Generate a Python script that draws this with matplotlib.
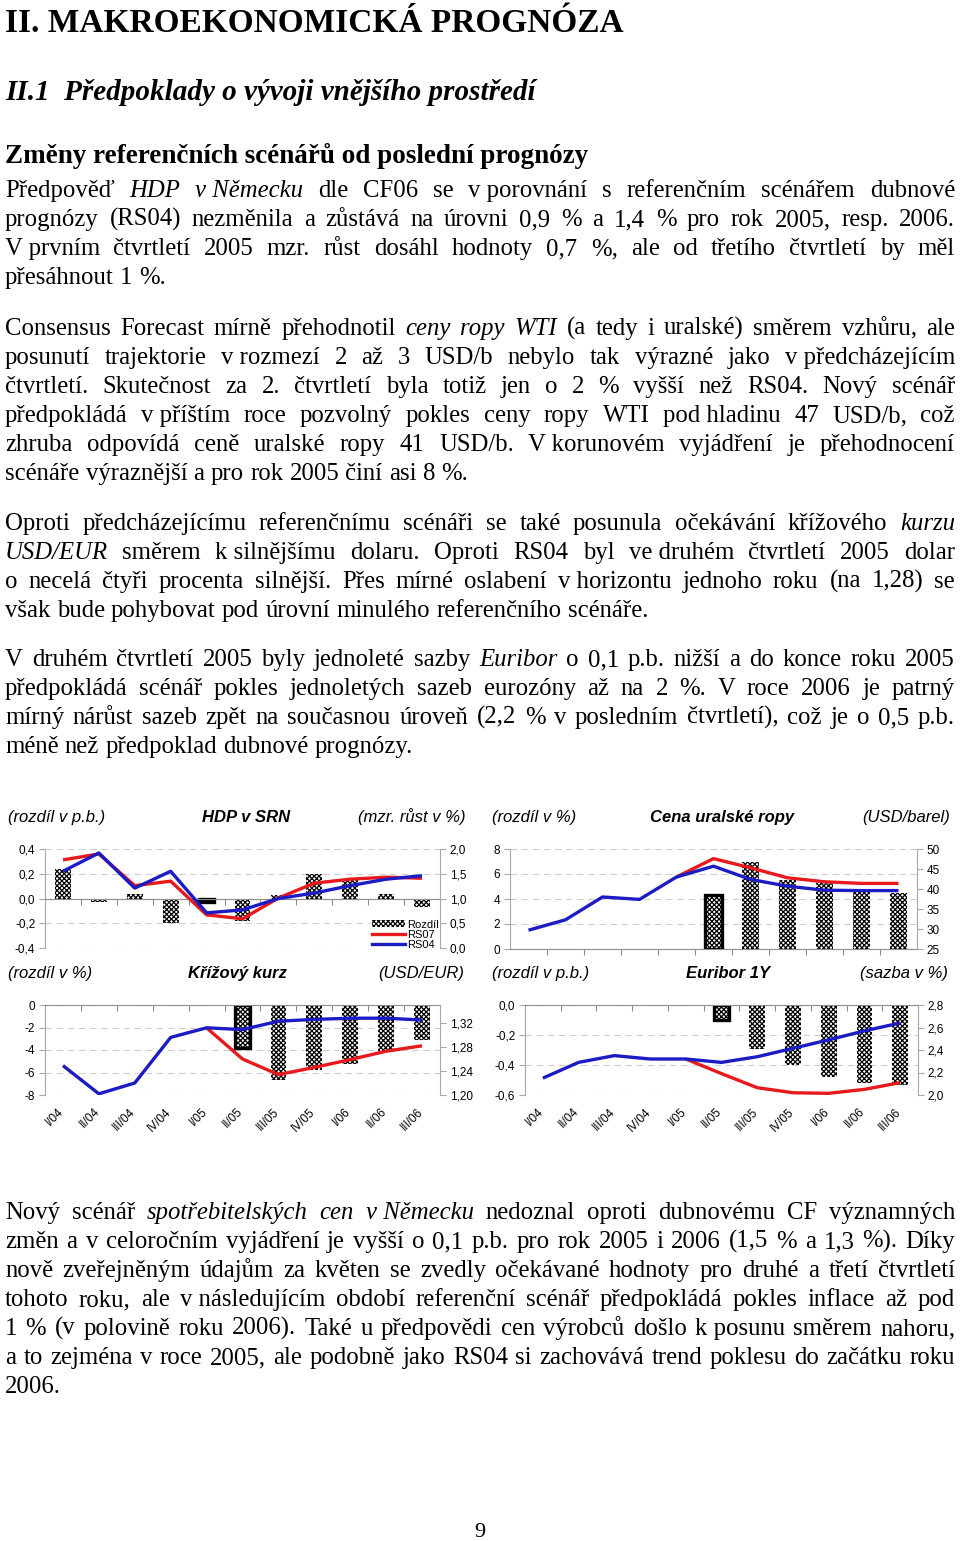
import matplotlib
matplotlib.use("Agg")
import matplotlib.pyplot as plt
from matplotlib.patches import Patch
from matplotlib.lines import Line2D
from matplotlib.ticker import FuncFormatter, MultipleLocator
import matplotlib.transforms as mtransforms
import numpy as np

SERIF = "Liberation Serif"
SANS = "Liberation Sans"
nan = np.nan

# =====
# Data
# =====
categories = ["I/04", "II/04", "III/04", "IV/04", "I/05", "II/05",
              "III/05", "IV/05", "I/06", "II/06", "III/06"]

# HDP v SRN
hdp_diff = [0.24, -0.025, 0.035, -0.20, -0.03, -0.18, 0.03, 0.20, 0.15, 0.035, -0.065]
hdp_rs07 = [1.78, 1.90, 1.26, 1.35, 0.67, 0.59, 1.01, 1.31, 1.39, 1.43, 1.41]
hdp_rs04 = [1.55, 1.92, 1.21, 1.55, 0.71, 0.77, 1.00, 1.11, 1.26, 1.39, 1.46]
hdp_box = 4

# Cena uralske ropy
oil_diff = [nan, nan, nan, nan, nan, 4.3, 7.0, 5.55, 5.3, 4.75, 4.45]
oil_rs07 = [nan, nan, nan, nan, 43.0, 47.6, 45.3, 42.8, 41.8, 41.4, 41.4]
oil_rs04 = [29.7, 32.3, 38.0, 37.4, 43.0, 45.7, 42.4, 40.7, 39.7, 39.6, 39.6]
oil_box = 5

# Krizovy kurz
fx_diff = [nan, nan, nan, nan, nan, -3.85, -6.65, -5.8, -5.25, -4.15, -3.1]
fx_rs07 = [nan, nan, nan, nan, 1.312, 1.260, 1.234, 1.246, 1.259, 1.273, 1.282]
fx_rs04 = [1.249, 1.202, 1.220, 1.296, 1.312, 1.309, 1.323, 1.326, 1.328, 1.328, 1.325]
fx_box = 5

# Euribor 1Y
eur_diff = [nan, nan, nan, nan, nan, -0.10, -0.29, -0.40, -0.48, -0.52, -0.53]
eur_rs07 = [nan, nan, nan, nan, 2.32, 2.19, 2.065, 2.02, 2.015, 2.05, 2.11]
eur_rs04 = [2.15, 2.29, 2.35, 2.32, 2.32, 2.29, 2.34, 2.415, 2.49, 2.57, 2.64]
eur_box = 5

# =====
# Text of the page
# =====
heading1 = "II. MAKROEKONOMICKÁ PROGNÓZA"
heading2 = "II.1  Předpoklady o vývoji vnějšího prostředí"
heading3 = "Změny referenčních scénářů od poslední prognózy"

para1 = ["Předpověď _HDP v~Německu_ dle CF06 se v~porovnání s referenčním scénářem dubnové",
         "prognózy (RS04) nezměnila a zůstává na úrovni 0,9 % a 1,4 % pro rok 2005, resp. 2006.",
         "V~prvním čtvrtletí 2005 mzr. růst dosáhl hodnoty 0,7 %, ale od třetího čtvrtletí by měl",
         "přesáhnout 1 %."]
para2 = ["Consensus Forecast mírně přehodnotil _ceny ropy WTI_ (a tedy i uralské) směrem vzhůru, ale",
         "posunutí trajektorie v~rozmezí 2 až 3 USD/b nebylo tak výrazné jako v~předcházejícím",
         "čtvrtletí. Skutečnost za 2. čtvrtletí byla totiž jen o 2 % vyšší než RS04. Nový scénář",
         "předpokládá v~příštím roce pozvolný pokles ceny ropy WTI pod~hladinu 47 USD/b, což",
         "zhruba odpovídá ceně uralské ropy 41 USD/b. V~korunovém vyjádření je přehodnocení",
         "scénáře výraznější a pro rok 2005 činí asi 8 %."]
para3 = ["Oproti předcházejícímu referenčnímu scénáři se také posunula očekávání křížového _kurzu_",
         "_USD/EUR_ směrem k~silnějšímu dolaru. Oproti RS04 byl ve~druhém čtvrtletí 2005 dolar",
         "o necelá čtyři procenta silnější. Přes mírné oslabení v~horizontu jednoho roku (na 1,28) se",
         "však bude pohybovat pod úrovní minulého referenčního scénáře."]
para4 = ["V druhém čtvrtletí 2005 byly jednoleté sazby _Euribor_ o 0,1 p.b. nižší a do konce roku 2005",
         "předpokládá scénář pokles jednoletých sazeb eurozóny až na 2 %. V roce 2006 je patrný",
         "mírný nárůst sazeb zpět na současnou úroveň (2,2 % v posledním čtvrtletí), což je o 0,5 p.b.",
         "méně než předpoklad dubnové prognózy."]
para5 = ["Nový scénář _spotřebitelských cen v~Německu_ nedoznal oproti dubnovému CF významných",
         "změn a v celoročním vyjádření je vyšší o 0,1 p.b. pro rok 2005 i 2006 (1,5 % a 1,3 %). Díky",
         "nově zveřejněným údajům za květen se zvedly očekávané hodnoty pro druhé a třetí čtvrtletí",
         "tohoto roku, ale v~následujícím období referenční scénář předpokládá pokles inflace až pod",
         "1 % (v polovině roku 2006). Také u předpovědi cen výrobců došlo k~posunu směrem nahoru,",
         "a to zejména v roce 2005, ale podobně jako RS04 si zachovává trend poklesu do začátku roku",
         "2006."]

RED = "#e8191c"
BLUE = "#1c1cc4"
GREY = "#a8a8a8"
HATCH = "xxxxxxx"
plt.rcParams["hatch.linewidth"] = 0.9

W, H = 960, 1541
fig = plt.figure(figsize=(W / 100, H / 100), dpi=100)
bg = fig.add_axes([0, 0, 1, 1])
bg.set_xlim(0, W)
bg.set_ylim(H, 0)
bg.axis("off")
renderer = fig.canvas.get_renderer()

BODY = 17.8
LEFT, RIGHT = 5, 955


def text_width(s, italic, size=BODY):
    t = bg.text(0, 0, s, fontsize=size, family=SERIF, style="italic" if italic else "normal")
    w = t.get_window_extent(renderer).width
    t.remove()
    return w


def parse(line):
    words = []
    state = False
    for tok in line.split(" "):
        start = tok.startswith("_")
        end = tok.endswith("_") and len(tok) > 1
        word = tok.strip("_").replace("~", " ")
        if start:
            state = True
        words.append((word, state))
        if end:
            state = False
    return words


space_w = text_width("a a", False) - text_width("aa", False)


def paragraph(lines, y0, step=29):
    for k, line in enumerate(lines):
        words = parse(line)
        widths = [text_width(w, it) for w, it in words]
        last = k == len(lines) - 1
        if last or len(words) == 1:
            gap = space_w
        else:
            gap = (RIGHT - LEFT - sum(widths)) / (len(words) - 1)
        x = LEFT
        for (w, it), wd in zip(words, widths):
            bg.text(x, y0 + k * step, w, fontsize=BODY, family=SERIF,
                    style="italic" if it else "normal", ha="left", va="baseline")
            x += wd + gap


bg.text(5, 32, heading1, fontsize=24, family=SERIF, fontweight="bold", va="baseline")
bg.text(5, 100, heading2, fontsize=21, family=SERIF, fontweight="bold",
        style="italic", va="baseline")
bg.text(5, 163, heading3, fontsize=19.5, family=SERIF, fontweight="bold", va="baseline")

paragraph(para1, 197)
paragraph(para2, 335)
paragraph(para3, 530)
paragraph(para4, 666)
paragraph(para5, 1219)
bg.text(480, 1537, "9", fontsize=16, family=SERIF, ha="center", va="baseline")


# =====
# Charts
# =====
def fmt(dec):
    def f(v, p):
        v = round(v, 6) + 0.0
        return f"{v:.{dec}f}".replace(".", ",")
    return FuncFormatter(f)


def chart(px, lrange, lstep, ldec, rrange, rticks, rdec, diff, box, rs07, rs04,
          headers, head_y, xlabels=False, legend=False):
    x0, y0, x1, y1 = px
    ax = fig.add_axes([x0 / W, 1 - y1 / H, (x1 - x0) / W, (y1 - y0) / H])
    ax2 = ax.twinx()
    xs = np.arange(len(categories))

    # bars (difference)
    d = np.array(diff, dtype=float)
    ok = ~np.isnan(d)
    bars = ax.bar(xs[ok], d[ok], width=0.44, facecolor="white", edgecolor="black",
                  hatch=HATCH, linewidth=0, zorder=2)
    for xi, b in zip(xs[ok], bars):
        if xi == box:
            b.set_linewidth(2.4)

    ax.set_xlim(-0.5, len(categories) - 0.5)
    ax.set_ylim(*lrange)
    ax.yaxis.set_major_locator(MultipleLocator(lstep))
    ax.yaxis.set_major_formatter(fmt(ldec))
    ax.yaxis.grid(True, color="#cfcfcf", linestyle=(0, (6, 4)), linewidth=0.8)
    ax.set_axisbelow(True)

    # category axis crossing at zero
    ax.spines["bottom"].set_position(("data", 0))
    ax.spines["bottom"].set_color("#8c8c8c")
    ax.spines["top"].set_visible(False)
    ax.spines["right"].set_visible(False)
    ax.spines["left"].set_color(GREY)
    ax.set_xticks(xs[:-1] + 0.5)
    ax.set_xticklabels([])
    ax.tick_params(axis="x", length=4, color="#8c8c8c", direction="out")
    ax.tick_params(axis="y", length=4, color=GREY, labelsize=8.5, pad=3)

    # lines (levels)
    ax2.plot(xs, rs07, color=RED, lw=2.4, solid_joinstyle="round", solid_capstyle="butt")
    ax2.plot(xs, rs04, color=BLUE, lw=2.4, solid_joinstyle="round", solid_capstyle="butt")
    ax2.set_ylim(*rrange)
    ax2.set_yticks(rticks)
    ax2.yaxis.set_major_formatter(fmt(rdec))
    for s in ["top", "bottom", "left"]:
        ax2.spines[s].set_visible(False)
    ax2.spines["right"].set_color(GREY)
    ax2.tick_params(axis="y", length=4, color=GREY, labelsize=8.5, pad=3)

    for a in (ax, ax2):
        for lab in a.get_yticklabels():
            lab.set_family(SANS)

    if xlabels:
        tr = mtransforms.blended_transform_factory(ax.transData, ax.transAxes)
        for xi, c in zip(xs, categories):
            ax.text(xi - 0.15, -0.12, c, transform=tr, rotation=45, ha="right", va="top",
                    rotation_mode="anchor", fontsize=8.5, family=SANS)

    if legend:
        handles = [Patch(facecolor="white", edgecolor="black", hatch=HATCH, linewidth=0),
                   Line2D([], [], color=RED, lw=2.4),
                   Line2D([], [], color=BLUE, lw=2.4)]
        leg = ax2.legend(handles, ["Rozdíl", "RS07", "RS04"], loc="lower right",
                         bbox_to_anchor=(1.0, -0.03), handlelength=3.0,
                         handleheight=0.6, labelspacing=0.0, borderpad=0.1,
                         handletextpad=0.15, borderaxespad=0.0, frameon=True,
                         prop={"family": SANS, "size": 8})
        leg.get_frame().set_edgecolor("none")
        leg.get_frame().set_facecolor("white")

    left_t, title_t, right_t = headers
    bg.text(left_t[0], head_y, left_t[1], fontsize=12, family=SANS, style="italic",
            ha="left", va="center")
    bg.text(title_t[0], head_y, title_t[1], fontsize=12, family=SANS, style="italic",
            fontweight="bold", ha="center", va="center")
    bg.text(right_t[0], head_y, right_t[1], fontsize=12, family=SANS, style="italic",
            ha="right", va="center")
    return ax, ax2


chart((45, 849, 440, 948), (-0.4, 0.4), 0.2, 1, (0.0, 2.0), [0, 0.5, 1.0, 1.5, 2.0], 1,
      hdp_diff, hdp_box, hdp_rs07, hdp_rs04,
      ((8, "(rozdíl v p.b.)"), (246, "HDP v SRN"), (466, "(mzr. růst v %)")), 817,
      legend=True)

chart((510, 849, 917, 949), (0, 8), 2, 0, (25, 50), [25, 30, 35, 40, 45, 50], 0,
      oil_diff, oil_box, oil_rs07, oil_rs04,
      ((492, "(rozdíl v %)"), (722, "Cena uralské ropy"), (950, "(USD/barel)")), 817)

chart((45, 1005, 440, 1095), (-8, 0), 2, 0, (1.20, 1.35), [1.20, 1.24, 1.28, 1.32], 2,
      fx_diff, fx_box, fx_rs07, fx_rs04,
      ((8, "(rozdíl v %)"), (238, "Křížový kurz"), (464, "(USD/EUR)")), 973,
      xlabels=True)

chart((525, 1005, 918, 1095), (-0.6, 0.0), 0.2, 1, (2.0, 2.8), [2.0, 2.2, 2.4, 2.6, 2.8], 1,
      eur_diff, eur_box, eur_rs07, eur_rs04,
      ((492, "(rozdíl v p.b.)"), (728, "Euribor 1Y"), (948, "(sazba v %)")), 973,
      xlabels=True)

fig.savefig("out.png", dpi=100)
